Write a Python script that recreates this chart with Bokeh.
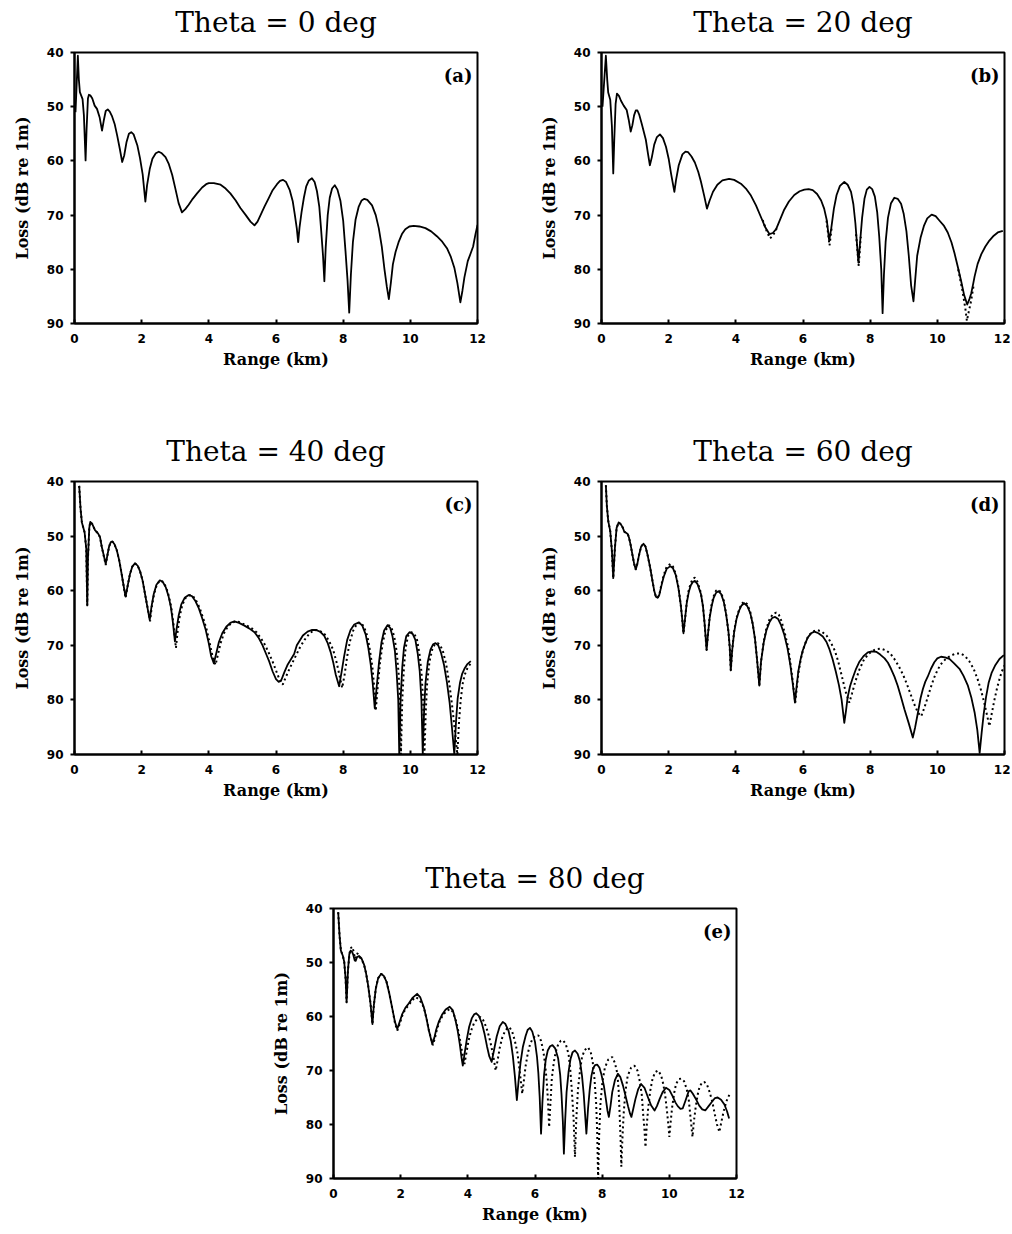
from bokeh.plotting import figure
from bokeh.models import Range1d, FixedTicker, Label, Spacer
from bokeh.layouts import column, row
from bokeh.embed import file_html
from bokeh.resources import INLINE

# ---------------- data (range km, loss dB) ----------------
titles = ["Theta = 0 deg", "Theta = 20 deg", "Theta = 40 deg", "Theta = 60 deg", "Theta = 80 deg"]
tags = ["(a)", "(b)", "(c)", "(d)", "(e)"]
x_ticks = [0, 2, 4, 6, 8, 10, 12]
y_ticks = [40, 50, 60, 70, 80, 90]

a_solid = [(0.03, 51.0), (0.10, 40.6), (0.13, 45.0), (0.16, 47.3), (0.24, 48.6), (0.28, 51.6), (0.33, 59.9),
           (0.36, 54.1), (0.40, 48.5), (0.43, 47.8), (0.47, 47.9), (0.53, 48.5), (0.60, 49.8), (0.67, 50.4),
           (0.75, 52.0), (0.82, 54.4), (0.87, 52.6), (0.93, 50.8), (0.99, 50.5), (1.05, 50.9), (1.12, 51.8),
           (1.20, 53.3), (1.27, 55.3), (1.35, 57.8), (1.42, 60.2), (1.48, 59.0), (1.55, 56.5), (1.62, 55.0),
           (1.69, 54.7), (1.76, 55.1), (1.87, 57.1), (1.95, 59.5), (2.03, 62.5), (2.11, 67.5), (2.16, 64.5),
           (2.24, 61.5), (2.32, 59.6), (2.42, 58.6), (2.51, 58.3), (2.60, 58.6), (2.71, 59.3), (2.81, 60.6),
           (2.91, 62.6), (3.01, 65.3), (3.10, 67.8), (3.20, 69.5), (3.30, 68.9), (3.40, 68.1), (3.52, 67.0),
           (3.65, 66.0), (3.80, 64.9), (3.92, 64.3), (4.00, 64.1), (4.15, 64.1), (4.35, 64.4), (4.50, 65.1),
           (4.64, 66.0), (4.80, 67.3), (4.94, 68.7), (5.10, 70.0), (5.24, 71.2), (5.36, 71.9), (5.45, 71.2),
           (5.54, 70.0), (5.66, 68.4), (5.78, 66.9), (5.90, 65.4), (6.03, 64.3), (6.12, 63.7), (6.21, 63.5),
           (6.30, 63.9), (6.41, 65.4), (6.50, 67.5), (6.56, 69.9), (6.62, 72.5), (6.66, 75.0), (6.70, 72.3),
           (6.76, 69.5), (6.83, 66.8), (6.90, 64.7), (6.98, 63.6), (7.07, 63.2), (7.15, 63.9), (7.22, 65.6),
           (7.29, 68.5), (7.34, 72.4), (7.40, 77.5), (7.44, 82.2), (7.48, 76.0), (7.54, 70.0), (7.60, 66.8),
           (7.67, 65.1), (7.75, 64.5), (7.83, 65.3), (7.92, 67.4), (8.00, 71.0), (8.07, 76.7), (8.13, 82.0),
           (8.18, 88.0), (8.23, 81.0), (8.29, 75.0), (8.37, 70.8), (8.46, 68.5), (8.55, 67.3), (8.63, 67.0),
           (8.72, 67.2), (8.86, 68.2), (8.97, 70.0), (9.06, 72.4), (9.15, 75.8), (9.23, 80.0), (9.30, 83.2),
           (9.36, 85.5), (9.42, 82.5), (9.48, 79.1), (9.56, 76.8), (9.65, 75.0), (9.75, 73.5), (9.85, 72.6),
           (9.97, 72.1), (10.10, 72.0), (10.27, 72.1), (10.45, 72.4), (10.62, 73.0), (10.79, 73.9), (10.95, 74.9),
           (11.09, 76.1), (11.20, 77.6), (11.31, 79.7), (11.40, 82.5), (11.49, 86.1), (11.55, 84.0), (11.61, 81.5),
           (11.71, 78.5), (11.80, 77.0), (11.87, 75.8), (11.94, 73.5), (12.00, 71.8)]

b_solid = [(0.03, 50.0), (0.13, 40.6), (0.17, 45.0), (0.20, 47.4), (0.26, 48.7), (0.31, 53.6), (0.35, 62.3),
           (0.38, 56.1), (0.42, 49.5), (0.46, 47.6), (0.52, 48.0), (0.58, 48.9), (0.66, 49.8), (0.75, 50.6),
           (0.81, 52.4), (0.87, 54.6), (0.92, 53.4), (0.97, 51.6), (1.02, 50.7), (1.07, 50.7), (1.12, 51.4),
           (1.20, 53.2), (1.32, 56.1), (1.38, 58.5), (1.44, 60.8), (1.50, 59.3), (1.57, 57.0), (1.65, 55.6),
           (1.74, 55.1), (1.83, 55.8), (1.92, 57.4), (2.00, 59.6), (2.07, 62.3), (2.17, 65.7), (2.22, 63.5),
           (2.30, 60.8), (2.41, 58.8), (2.50, 58.3), (2.58, 58.4), (2.68, 59.2), (2.78, 60.3), (2.88, 62.0),
           (2.96, 63.8), (3.06, 66.5), (3.14, 68.8), (3.22, 67.3), (3.32, 65.7), (3.45, 64.4), (3.60, 63.6),
           (3.80, 63.3), (3.95, 63.5), (4.15, 64.2), (4.30, 65.1), (4.45, 66.4), (4.60, 68.2), (4.75, 70.4),
           (4.88, 72.3), (5.00, 73.5), (5.10, 73.3), (5.20, 72.6), (5.32, 70.8), (5.44, 69.0), (5.58, 67.5),
           (5.74, 66.3), (5.90, 65.6), (6.04, 65.3), (6.17, 65.2), (6.29, 65.4), (6.42, 66.1), (6.54, 67.3),
           (6.63, 68.8), (6.71, 71.0), (6.78, 74.7), (6.84, 72.5), (6.92, 68.8), (7.00, 66.3), (7.10, 64.6),
           (7.23, 63.9), (7.33, 64.4), (7.43, 65.7), (7.50, 68.0), (7.56, 71.5), (7.61, 75.5), (7.65, 78.8),
           (7.70, 75.0), (7.76, 70.5), (7.83, 67.0), (7.90, 65.3), (7.98, 64.8), (8.06, 65.2), (8.14, 66.6),
           (8.21, 69.5), (8.27, 74.0), (8.33, 80.0), (8.37, 88.1), (8.41, 81.0), (8.46, 75.0), (8.53, 70.5),
           (8.62, 67.8), (8.72, 66.8), (8.82, 67.0), (8.92, 67.9), (9.00, 69.8), (9.08, 73.0), (9.15, 77.5),
           (9.22, 83.0), (9.29, 85.9), (9.34, 82.0), (9.40, 77.5), (9.50, 74.2), (9.60, 72.0), (9.70, 70.6),
           (9.83, 69.9), (9.95, 70.2), (10.06, 71.0), (10.20, 72.0), (10.31, 73.2), (10.42, 75.0), (10.51, 77.0),
           (10.62, 79.8), (10.71, 82.2), (10.80, 84.8), (10.89, 86.5), (10.95, 85.6), (11.01, 84.4),
           (11.07, 82.6), (11.11, 81.3), (11.20, 79.0), (11.31, 77.2), (11.43, 75.8), (11.55, 74.7),
           (11.68, 73.8), (11.80, 73.2), (11.95, 72.9)]
# the dotted curve of (b) lies under the solid one except near these nulls
b_dotted_parts = [
    [(4.80, 70.9), (4.92, 73.0), (5.02, 74.3), (5.12, 73.6), (5.24, 72.2)],
    [(6.70, 71.0), (6.79, 75.6), (6.86, 72.0)],
    [(7.58, 73.5), (7.66, 79.4), (7.72, 74.0)],
    [(10.62, 80.0), (10.75, 84.0), (10.84, 87.5), (10.88, 89.5), (10.93, 88.0), (11.00, 86.0), (11.08, 83.0)],
]

c_solid = [(0.14, 40.8), (0.18, 45.0), (0.22, 47.5), (0.30, 49.3), (0.35, 52.3), (0.38, 62.7), (0.40, 54.2),
           (0.44, 48.5), (0.47, 47.4), (0.53, 47.8), (0.61, 48.9), (0.70, 49.5), (0.76, 50.2), (0.81, 51.9),
           (0.87, 53.5), (0.93, 55.1), (0.98, 53.5), (1.03, 51.9), (1.08, 51.1), (1.13, 51.0), (1.19, 51.5),
           (1.26, 52.6), (1.33, 54.4), (1.40, 56.8), (1.46, 59.0), (1.52, 61.1), (1.58, 59.2), (1.65, 57.0),
           (1.72, 55.6), (1.80, 55.0), (1.88, 55.4), (1.95, 56.4), (2.03, 58.2), (2.10, 60.6), (2.17, 63.0),
           (2.24, 65.4), (2.29, 63.0), (2.36, 60.6), (2.44, 58.9), (2.54, 58.1), (2.63, 58.4), (2.72, 59.4),
           (2.80, 61.0), (2.87, 63.0), (2.93, 65.8), (2.99, 69.3), (3.04, 67.0), (3.10, 64.6), (3.18, 62.5),
           (3.28, 61.3), (3.40, 60.8), (3.50, 61.0), (3.60, 61.9), (3.70, 63.2), (3.80, 65.0), (3.90, 67.0),
           (4.00, 69.7), (4.07, 72.0), (4.15, 73.3), (4.22, 71.5), (4.30, 69.4), (4.40, 67.8), (4.52, 66.6),
           (4.64, 65.9), (4.76, 65.6), (4.90, 65.9), (5.06, 66.4), (5.20, 66.9), (5.36, 67.6), (5.48, 68.6),
           (5.60, 70.0), (5.70, 71.5), (5.80, 73.0), (5.90, 74.8), (6.00, 76.2), (6.08, 76.7), (6.15, 76.5),
           (6.25, 74.9), (6.35, 73.5), (6.45, 72.5), (6.54, 71.6), (6.62, 70.0), (6.69, 69.3), (6.80, 68.2),
           (6.94, 67.5), (7.06, 67.2), (7.19, 67.2), (7.31, 67.5), (7.43, 68.2), (7.54, 69.6), (7.63, 71.3),
           (7.71, 73.3), (7.78, 75.4), (7.88, 77.5), (7.95, 75.0), (8.03, 72.0), (8.12, 69.0), (8.22, 67.2),
           (8.33, 66.2), (8.47, 65.8), (8.57, 66.4), (8.67, 68.0), (8.75, 70.5), (8.82, 73.5), (8.88, 77.0),
           (8.94, 81.5), (9.00, 77.5), (9.07, 73.0), (9.14, 69.5), (9.22, 67.3), (9.32, 66.3), (9.40, 66.8),
           (9.47, 68.4), (9.54, 71.0), (9.59, 74.8), (9.64, 80.0), (9.67, 90.0), (9.71, 80.0), (9.76, 74.0),
           (9.81, 70.5), (9.88, 68.3), (9.98, 67.6), (10.07, 67.9), (10.15, 69.0), (10.22, 71.5), (10.28, 74.8),
           (10.33, 80.0), (10.37, 90.0), (10.41, 82.0), (10.45, 77.0), (10.52, 73.0), (10.60, 70.8),
           (10.68, 69.8), (10.75, 69.6), (10.83, 70.0), (10.91, 71.3), (11.00, 73.5), (11.09, 76.8),
           (11.17, 80.5), (11.24, 85.1), (11.31, 90.0), (11.36, 84.0), (11.41, 79.7), (11.48, 76.8),
           (11.54, 75.3), (11.62, 74.2), (11.69, 73.5), (11.80, 72.9)]
c_dotted = [(0.14, 40.8), (0.18, 45.0), (0.22, 47.5), (0.30, 49.3), (0.35, 52.3), (0.38, 62.7), (0.40, 54.2),
            (0.44, 48.5), (0.47, 47.4), (0.53, 47.8), (0.61, 48.9), (0.70, 49.5), (0.76, 50.2), (0.81, 51.9),
            (0.87, 53.6), (0.93, 55.3), (0.98, 53.5), (1.03, 51.9), (1.08, 51.1), (1.13, 51.0), (1.19, 51.5),
            (1.26, 52.6), (1.33, 54.4), (1.40, 56.8), (1.46, 59.0), (1.52, 61.3), (1.58, 59.2), (1.65, 57.0),
            (1.72, 55.6), (1.80, 55.0), (1.88, 55.4), (1.95, 56.4), (2.03, 58.2), (2.10, 60.6), (2.18, 63.2),
            (2.25, 65.6), (2.30, 63.0), (2.37, 60.6), (2.45, 58.9), (2.55, 58.1), (2.64, 58.4), (2.73, 59.4),
            (2.81, 61.0), (2.88, 63.0), (2.95, 66.2), (3.02, 70.5), (3.07, 67.5), (3.13, 64.8), (3.21, 62.6),
            (3.31, 61.3), (3.43, 60.8), (3.53, 61.0), (3.63, 61.9), (3.73, 63.2), (3.83, 65.0), (3.93, 67.0),
            (4.03, 69.7), (4.12, 72.3), (4.20, 73.6), (4.27, 71.7), (4.35, 69.6), (4.45, 67.8), (4.56, 66.6),
            (4.68, 65.9), (4.80, 65.6), (4.94, 65.8), (5.06, 66.2), (5.20, 66.6), (5.30, 67.0), (5.42, 67.6),
            (5.55, 68.7), (5.68, 70.0), (5.80, 71.6), (5.90, 73.0), (6.00, 74.6), (6.10, 76.2), (6.20, 77.2),
            (6.28, 76.0), (6.38, 74.6), (6.48, 73.3), (6.60, 71.8), (6.72, 70.3), (6.85, 69.0), (7.00, 67.8),
            (7.12, 67.3), (7.22, 67.2), (7.34, 67.5), (7.45, 68.0), (7.58, 69.2), (7.70, 70.8), (7.80, 73.0),
            (7.88, 75.2), (7.97, 77.8), (8.04, 75.5), (8.12, 72.0), (8.20, 69.3), (8.30, 67.3), (8.40, 66.2),
            (8.52, 65.8), (8.62, 66.6), (8.72, 68.3), (8.80, 71.0), (8.87, 74.0), (8.93, 78.0), (8.97, 82.0),
            (9.03, 77.5), (9.10, 73.0), (9.18, 69.5), (9.26, 67.3), (9.36, 66.3), (9.44, 66.8), (9.52, 68.4),
            (9.59, 71.0), (9.65, 75.0), (9.69, 80.0), (9.72, 90.0), (9.76, 80.0), (9.81, 74.0), (9.86, 70.5),
            (9.93, 68.3), (10.03, 67.6), (10.12, 67.9), (10.20, 69.0), (10.27, 71.5), (10.33, 74.8),
            (10.38, 80.0), (10.42, 90.0), (10.46, 82.0), (10.50, 77.0), (10.57, 73.0), (10.65, 70.8),
            (10.73, 69.8), (10.82, 69.6), (10.90, 70.1), (10.98, 71.3), (11.07, 73.6), (11.16, 77.0),
            (11.24, 80.8), (11.32, 85.3), (11.40, 90.0), (11.45, 84.0), (11.50, 80.0), (11.56, 77.0),
            (11.62, 75.4), (11.70, 74.2), (11.80, 73.3)]

d_solid = [(0.13, 40.7), (0.16, 44.5), (0.20, 47.2), (0.26, 49.1), (0.31, 52.7), (0.35, 57.7), (0.40, 52.1),
           (0.45, 48.5), (0.51, 47.5), (0.57, 47.8), (0.63, 48.4), (0.68, 49.2), (0.73, 49.4), (0.78, 49.6),
           (0.82, 50.3), (0.87, 51.7), (0.92, 53.4), (0.97, 55.0), (1.02, 56.1), (1.07, 55.0), (1.12, 53.4),
           (1.18, 51.9), (1.25, 51.4), (1.31, 51.9), (1.37, 53.4), (1.45, 55.8), (1.52, 58.3), (1.57, 60.0),
           (1.62, 61.1), (1.67, 61.3), (1.72, 60.8), (1.78, 59.2), (1.85, 57.5), (1.94, 56.0), (2.05, 55.5),
           (2.13, 55.9), (2.21, 57.1), (2.29, 59.5), (2.36, 62.6), (2.40, 65.0), (2.44, 67.8), (2.49, 65.0),
           (2.54, 62.2), (2.60, 60.2), (2.66, 59.0), (2.72, 58.4), (2.78, 58.2), (2.86, 58.8), (2.96, 60.6),
           (3.02, 62.8), (3.07, 66.0), (3.13, 70.9), (3.17, 68.0), (3.22, 65.0), (3.28, 62.8), (3.34, 61.3),
           (3.41, 60.4), (3.48, 60.1), (3.56, 60.6), (3.64, 62.0), (3.71, 64.3), (3.78, 67.5), (3.82, 70.5),
           (3.85, 74.6), (3.89, 71.0), (3.95, 67.6), (4.02, 65.2), (4.10, 63.6), (4.17, 62.7), (4.25, 62.3),
           (4.34, 62.8), (4.43, 64.1), (4.50, 66.0), (4.57, 68.8), (4.63, 72.5), (4.70, 77.4), (4.75, 73.0),
           (4.83, 69.5), (4.91, 67.3), (5.00, 65.8), (5.08, 65.0), (5.17, 64.8), (5.26, 65.2), (5.34, 66.2),
           (5.44, 68.0), (5.54, 70.6), (5.62, 73.5), (5.69, 76.8), (5.76, 80.5), (5.81, 77.5), (5.86, 74.8),
           (5.93, 72.5), (5.99, 71.0), (6.06, 69.8), (6.14, 68.6), (6.24, 67.8), (6.34, 67.5), (6.46, 67.8),
           (6.59, 68.4), (6.70, 69.4), (6.78, 70.6), (6.88, 72.5), (6.98, 74.9), (7.07, 77.3), (7.15, 80.0),
           (7.23, 84.2), (7.28, 82.0), (7.33, 79.5), (7.40, 77.5), (7.48, 76.0), (7.58, 74.3), (7.68, 73.0),
           (7.80, 72.0), (7.93, 71.3), (8.05, 71.1), (8.18, 71.2), (8.30, 71.7), (8.43, 72.4), (8.53, 73.2),
           (8.62, 74.3), (8.72, 75.7), (8.82, 77.4), (8.92, 79.5), (9.02, 81.7), (9.15, 84.3), (9.27, 86.9),
           (9.34, 85.0), (9.42, 82.4), (9.50, 79.7), (9.57, 78.0), (9.64, 76.7), (9.71, 75.8), (9.81, 74.3),
           (9.91, 73.1), (10.00, 72.4), (10.11, 72.1), (10.23, 72.2), (10.36, 72.5), (10.50, 73.3),
           (10.66, 74.3), (10.78, 75.6), (10.91, 77.4), (11.01, 79.5), (11.11, 82.3), (11.19, 85.5),
           (11.26, 89.7), (11.32, 86.0), (11.38, 82.6), (11.45, 79.5), (11.53, 76.8), (11.62, 75.0),
           (11.73, 73.6), (11.85, 72.5), (11.98, 71.8)]
d_dotted = [(0.13, 40.7), (0.16, 44.5), (0.20, 47.2), (0.26, 49.1), (0.31, 52.7), (0.35, 57.7), (0.40, 52.1),
            (0.45, 48.5), (0.51, 47.5), (0.57, 47.8), (0.63, 48.4), (0.68, 49.2), (0.73, 49.4), (0.78, 49.6),
            (0.82, 50.3), (0.87, 51.7), (0.92, 53.4), (0.97, 55.0), (1.02, 56.1), (1.07, 55.0), (1.12, 53.4),
            (1.18, 51.9), (1.25, 51.4), (1.31, 51.9), (1.37, 53.4), (1.45, 55.8), (1.52, 58.3), (1.57, 60.0),
            (1.62, 61.1), (1.67, 61.3), (1.72, 60.8), (1.78, 59.0), (1.85, 57.2), (1.94, 55.6), (2.05, 55.1),
            (2.13, 55.6), (2.21, 56.9), (2.29, 59.3), (2.36, 62.6), (2.40, 65.0), (2.44, 67.8), (2.49, 65.0),
            (2.54, 62.0), (2.60, 59.8), (2.66, 58.6), (2.72, 57.8), (2.78, 57.6), (2.86, 58.4), (2.96, 60.4),
            (3.02, 62.8), (3.07, 66.0), (3.13, 70.9), (3.17, 68.0), (3.22, 64.8), (3.28, 62.5), (3.34, 61.0),
            (3.41, 60.0), (3.48, 59.8), (3.56, 60.3), (3.64, 61.8), (3.71, 64.2), (3.78, 67.5), (3.82, 70.5),
            (3.85, 74.6), (3.89, 71.0), (3.95, 67.4), (4.02, 65.0), (4.10, 63.4), (4.17, 62.4), (4.25, 62.0),
            (4.34, 62.5), (4.43, 63.9), (4.50, 66.0), (4.57, 68.8), (4.63, 72.5), (4.70, 77.4), (4.75, 73.0),
            (4.83, 69.3), (4.91, 66.9), (5.00, 65.3), (5.10, 64.3), (5.20, 64.0), (5.28, 64.4), (5.36, 65.6),
            (5.46, 67.8), (5.56, 70.4), (5.63, 73.5), (5.70, 76.8), (5.77, 80.5), (5.82, 77.5), (5.87, 74.8),
            (5.94, 72.4), (6.00, 70.9), (6.07, 69.6), (6.15, 68.4), (6.28, 67.5), (6.42, 67.2), (6.56, 67.5),
            (6.70, 68.2), (6.83, 69.5), (6.95, 71.0), (7.05, 73.0), (7.15, 75.5), (7.27, 78.5), (7.38, 80.5),
            (7.46, 78.8), (7.55, 76.8), (7.67, 74.6), (7.80, 72.8), (7.92, 71.8), (8.05, 71.1), (8.18, 70.7),
            (8.32, 70.6), (8.46, 70.9), (8.60, 71.5), (8.72, 72.5), (8.85, 73.8), (8.98, 75.4), (9.10, 77.2),
            (9.20, 78.9), (9.30, 80.6), (9.42, 82.3), (9.52, 83.0), (9.61, 81.5), (9.70, 79.8), (9.80, 77.8),
            (9.90, 76.0), (10.00, 74.6), (10.10, 73.5), (10.25, 72.5), (10.40, 71.9), (10.55, 71.5),
            (10.70, 71.5), (10.83, 72.0), (10.95, 72.9), (11.08, 74.3), (11.20, 76.2), (11.30, 78.2),
            (11.40, 80.6), (11.48, 82.8), (11.55, 84.8), (11.62, 82.5), (11.70, 80.0), (11.78, 77.8),
            (11.85, 76.2), (11.92, 74.8), (12.00, 73.7)]

e_solid = [(0.14, 40.7), (0.18, 45.0), (0.22, 47.8), (0.28, 48.8), (0.32, 49.9), (0.36, 53.0), (0.39, 57.4),
           (0.43, 51.5), (0.47, 48.5), (0.51, 47.8), (0.55, 48.0), (0.59, 48.6), (0.63, 49.6), (0.66, 49.7),
           (0.70, 49.0), (0.76, 48.8), (0.83, 49.2), (0.91, 50.4), (0.97, 52.0), (1.03, 54.2), (1.10, 57.5),
           (1.16, 61.4), (1.20, 58.0), (1.26, 54.8), (1.33, 52.9), (1.42, 52.1), (1.50, 52.5), (1.58, 53.6),
           (1.66, 55.7), (1.75, 58.5), (1.83, 61.0), (1.90, 62.3), (1.97, 61.0), (2.05, 59.5), (2.14, 58.4),
           (2.24, 57.6), (2.36, 56.5), (2.49, 55.8), (2.58, 56.4), (2.69, 58.3), (2.77, 60.4), (2.84, 62.6),
           (2.94, 65.1), (3.00, 64.0), (3.06, 62.4), (3.14, 60.9), (3.23, 59.7), (3.34, 58.7), (3.46, 58.2),
           (3.55, 58.8), (3.63, 60.6), (3.70, 62.7), (3.76, 65.1), (3.81, 67.5), (3.85, 69.1), (3.90, 67.0),
           (3.97, 64.2), (4.04, 61.9), (4.12, 60.3), (4.19, 59.6), (4.25, 59.4), (4.33, 59.9), (4.42, 61.3),
           (4.50, 63.3), (4.57, 65.5), (4.64, 67.4), (4.71, 68.4), (4.78, 66.2), (4.86, 63.7), (4.95, 61.8),
           (5.04, 61.0), (5.12, 61.4), (5.21, 62.6), (5.28, 64.6), (5.34, 67.3), (5.40, 71.0), (5.46, 75.5),
           (5.51, 72.0), (5.57, 68.5), (5.64, 65.6), (5.72, 63.6), (5.78, 62.5), (5.85, 62.1), (5.92, 62.8),
           (6.00, 64.7), (6.06, 67.5), (6.10, 70.5), (6.14, 75.0), (6.18, 81.7), (6.22, 76.0), (6.27, 70.8),
           (6.32, 68.0), (6.38, 66.3), (6.45, 65.5), (6.52, 65.3), (6.60, 65.9), (6.69, 67.8), (6.75, 70.8),
           (6.79, 74.5), (6.83, 79.5), (6.86, 85.4), (6.90, 79.0), (6.94, 74.0), (7.00, 70.2), (7.06, 67.8),
           (7.12, 66.6), (7.19, 66.3), (7.27, 66.9), (7.34, 68.3), (7.40, 71.0), (7.45, 74.3), (7.49, 78.0),
           (7.53, 81.7), (7.58, 77.0), (7.63, 73.5), (7.68, 71.0), (7.73, 69.6), (7.79, 69.0), (7.85, 68.9),
           (7.92, 69.5), (7.98, 70.8), (8.05, 72.8), (8.11, 75.3), (8.16, 77.5), (8.20, 78.6), (8.25, 76.5),
           (8.30, 74.0), (8.38, 71.8), (8.47, 70.6), (8.54, 71.2), (8.62, 72.8), (8.70, 74.8), (8.77, 76.6),
           (8.83, 78.0), (8.87, 78.6), (8.93, 77.0), (8.99, 75.3), (9.07, 73.5), (9.16, 72.5), (9.26, 73.2),
           (9.36, 74.9), (9.46, 76.5), (9.56, 77.4), (9.63, 76.6), (9.71, 75.3), (9.80, 74.0), (9.90, 73.2),
           (10.00, 73.6), (10.10, 74.8), (10.18, 75.9), (10.25, 76.6), (10.33, 77.1), (10.40, 77.0),
           (10.48, 75.6), (10.55, 74.3), (10.58, 73.8), (10.63, 73.7), (10.70, 74.3), (10.80, 75.4),
           (10.89, 76.5), (10.98, 77.2), (11.07, 77.4), (11.17, 76.6), (11.27, 75.8), (11.36, 75.1),
           (11.44, 75.0), (11.54, 75.4), (11.64, 76.3), (11.72, 77.6), (11.78, 78.9)]
e_dotted = [(0.14, 40.7), (0.18, 45.0), (0.22, 47.8), (0.28, 48.8), (0.32, 49.9), (0.36, 53.0), (0.39, 57.4),
            (0.43, 51.5), (0.48, 48.2), (0.52, 47.3), (0.56, 47.1), (0.60, 48.0), (0.64, 49.3), (0.67, 48.8),
            (0.70, 48.3), (0.74, 48.5), (0.78, 49.0), (0.84, 49.5), (0.91, 50.4), (0.97, 52.0), (1.03, 54.2),
            (1.10, 57.5), (1.16, 61.4), (1.20, 58.0), (1.26, 54.8), (1.33, 52.9), (1.42, 52.1), (1.50, 52.5),
            (1.58, 53.6), (1.66, 55.7), (1.75, 58.5), (1.83, 61.2), (1.90, 62.6), (1.97, 61.4), (2.05, 59.8),
            (2.14, 58.6), (2.24, 57.9), (2.34, 57.0), (2.45, 56.4), (2.56, 56.9), (2.69, 58.3), (2.77, 60.4),
            (2.84, 62.6), (2.96, 65.3), (3.02, 64.0), (3.08, 62.4), (3.16, 60.9), (3.25, 59.8), (3.36, 59.0),
            (3.48, 58.6), (3.57, 59.3), (3.65, 60.9), (3.72, 62.8), (3.78, 64.8), (3.84, 67.0), (3.90, 68.8),
            (3.95, 67.0), (4.02, 64.5), (4.10, 62.6), (4.18, 61.3), (4.27, 60.5), (4.37, 60.1), (4.46, 60.7),
            (4.55, 62.0), (4.63, 63.7), (4.70, 65.5), (4.77, 67.8), (4.83, 70.0), (4.89, 68.0), (4.95, 65.8),
            (5.02, 64.0), (5.10, 62.8), (5.17, 62.2), (5.24, 62.0), (5.32, 62.8), (5.40, 64.5), (5.47, 66.5),
            (5.52, 68.8), (5.57, 71.5), (5.62, 74.3), (5.67, 71.8), (5.72, 69.2), (5.78, 67.0), (5.85, 65.2),
            (5.93, 64.1), (6.01, 63.6), (6.10, 63.5), (6.18, 64.5), (6.25, 66.5), (6.30, 68.8), (6.35, 72.0),
            (6.39, 76.0), (6.42, 80.5), (6.46, 76.0), (6.50, 71.5), (6.56, 68.5), (6.62, 66.5), (6.70, 65.0),
            (6.77, 64.5), (6.84, 64.4), (6.92, 65.2), (7.00, 67.0), (7.05, 69.8), (7.10, 74.0), (7.15, 79.0),
            (7.19, 86.0), (7.23, 79.0), (7.28, 73.5), (7.34, 70.0), (7.40, 67.5), (7.48, 66.2), (7.58, 65.7),
            (7.66, 66.6), (7.72, 68.5), (7.77, 71.5), (7.82, 76.0), (7.85, 81.0), (7.88, 90.0), (7.91, 82.0),
            (7.95, 76.0), (8.01, 72.0), (8.08, 69.5), (8.18, 68.0), (8.30, 67.5), (8.38, 68.6), (8.45, 70.5),
            (8.49, 73.5), (8.52, 78.0), (8.55, 83.0), (8.57, 87.8), (8.60, 83.0), (8.64, 78.0), (8.69, 74.0),
            (8.76, 71.0), (8.86, 69.5), (8.96, 69.1), (9.05, 70.0), (9.12, 72.0), (9.18, 74.5), (9.22, 78.0),
            (9.26, 81.0), (9.29, 84.2), (9.33, 80.0), (9.37, 77.0), (9.43, 73.8), (9.50, 71.5), (9.58, 70.3),
            (9.66, 70.0), (9.75, 70.8), (9.82, 72.5), (9.88, 74.8), (9.93, 77.5), (9.97, 80.0), (10.00, 82.3),
            (10.04, 79.5), (10.08, 77.0), (10.14, 74.3), (10.20, 72.5), (10.28, 71.6), (10.35, 71.5),
            (10.44, 72.0), (10.52, 73.5), (10.58, 75.5), (10.62, 78.0), (10.66, 80.5), (10.69, 82.3),
            (10.73, 79.5), (10.78, 77.0), (10.84, 74.6), (10.90, 73.0), (10.97, 72.3), (11.04, 72.1),
            (11.12, 72.6), (11.20, 74.0), (11.28, 75.8), (11.35, 78.0), (11.42, 80.0), (11.49, 81.4),
            (11.55, 79.5), (11.62, 77.5), (11.70, 75.7), (11.80, 74.3)]

SERIF = "DejaVu Serif"
SANS = "DejaVu Sans"


def panel(title, tag, solid, dotted_parts, top, fh, bottom, left=66, right=58):
    p = figure(frame_width=403, frame_height=fh,
               min_border_left=left, min_border_right=right,
               min_border_top=top, min_border_bottom=bottom,
               x_range=Range1d(0, 12), y_range=Range1d(90, 40),
               output_backend="svg", toolbar_location=None,
               background_fill_color="white", border_fill_color="white")
    p.title.text = title
    p.title.align = "center"
    p.title.vertical_align = "bottom"
    p.title.text_font = SERIF
    p.title.text_font_size = "28px"
    p.title.text_font_style = "normal"
    p.title.text_color = "black"
    # keep a gap of ~14px between the heading and the frame (padding is left, right, top, bottom)
    if "padding" in p.title.properties():
        p.title.standoff = 0
        p.title.padding = (0, 0, 0, 14)
    else:
        p.title.standoff = 18
    p.grid.visible = False
    p.outline_line_color = "black"
    p.outline_line_width = 2
    p.outline_line_alpha = 1.0

    p.xaxis.ticker = FixedTicker(ticks=x_ticks)
    p.yaxis.ticker = FixedTicker(ticks=y_ticks)
    for ax in (p.xaxis[0], p.yaxis[0]):
        ax.axis_line_width = 2
        ax.axis_line_color = "black"
        ax.major_tick_line_color = "black"
        ax.major_tick_line_width = 2
        ax.minor_tick_line_color = None
        ax.major_label_text_font = SANS
        ax.major_label_text_font_style = "bold"
        ax.major_label_text_font_size = "12px"
        ax.major_label_text_color = "black"
        ax.axis_label_text_font = SERIF
        ax.axis_label_text_font_style = "bold"
        ax.axis_label_text_font_size = "16px"
        ax.axis_label_text_color = "black"
    p.xaxis.axis_label = "Range (km)"
    p.xaxis.major_tick_in = 4
    p.xaxis.major_tick_out = 0
    p.xaxis.major_label_standoff = 10
    p.xaxis.axis_label_standoff = 4
    p.yaxis.axis_label = "Loss (dB re 1m)"
    p.yaxis.major_tick_in = 0
    p.yaxis.major_tick_out = 4
    p.yaxis.major_label_standoff = 7
    p.yaxis.axis_label_standoff = 12

    for part in dotted_parts:
        dx, dy = zip(*part)
        p.line(list(dx), list(dy), line_color="black", line_width=2, line_dash="2 3")
    sx, sy = zip(*solid)
    p.line(list(sx), list(sy), line_color="black", line_width=1.8, line_join="round")

    p.add_layout(Label(x=12, y=44.2, text=tag, text_align="right", text_baseline="middle",
                       x_offset=-5, text_font=SERIF, text_font_style="bold",
                       text_font_size="18px", text_color="black"))
    return p


pa = panel(titles[0], tags[0], a_solid, [], top=52, fh=271, bottom=85, left=74)
pb = panel(titles[1], tags[1], b_solid, b_dotted_parts, top=52, fh=271, bottom=85, right=6)
pc = panel(titles[2], tags[2], c_solid, [c_dotted], top=73, fh=273, bottom=79, left=74)
pd = panel(titles[3], tags[3], d_solid, [d_dotted], top=73, fh=273, bottom=79, right=6)
pe = panel(titles[4], tags[4], e_solid, [e_dotted], top=75, fh=270, bottom=52)

layout = column(row(pa, pb), row(pc, pd), row(Spacer(width=267, height=10), pe))

open("out.html", "w").write(file_html(layout, INLINE))
